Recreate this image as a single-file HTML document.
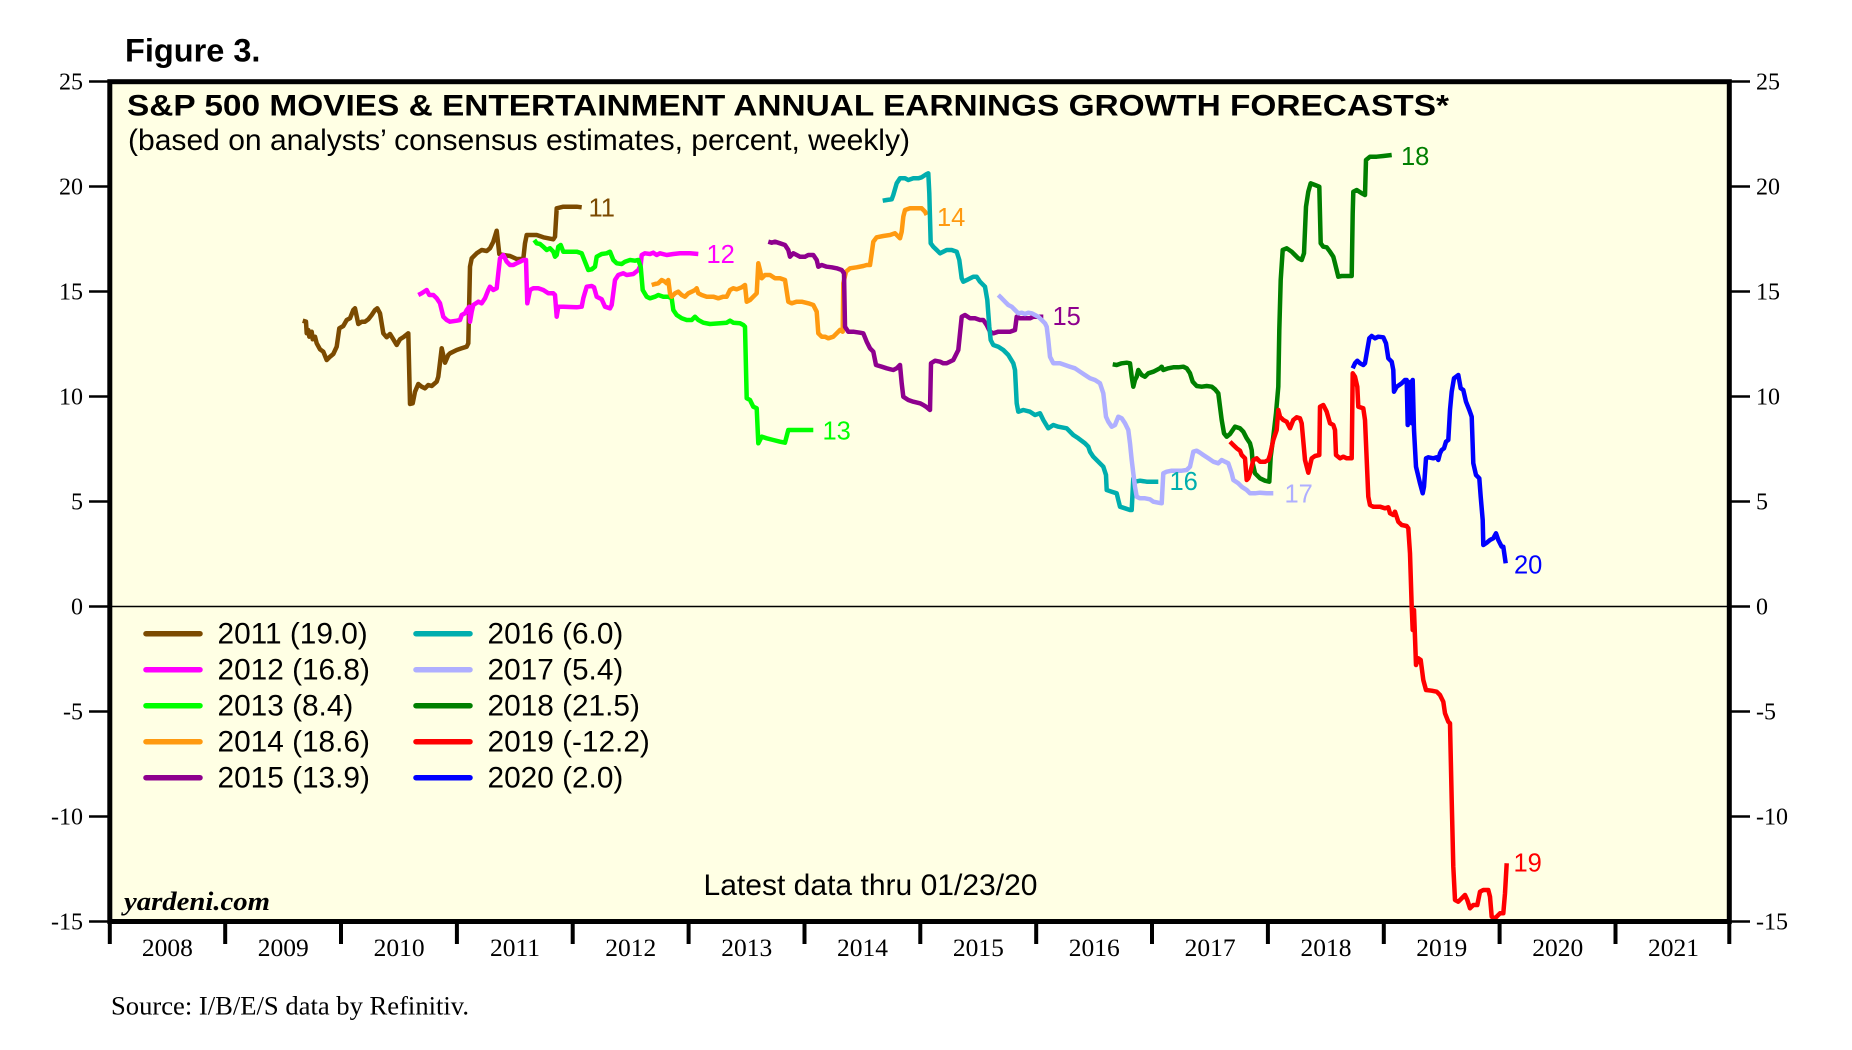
<!DOCTYPE html>
<html><head><meta charset="utf-8"><style>
html,body{margin:0;padding:0;background:#fff;}
svg{display:block;}
.s{font-family:"Liberation Sans",Arial,sans-serif;}
.r{font-family:"Liberation Serif","Times New Roman",serif;}
.ln{fill:none;stroke-width:4.5;stroke-linejoin:round;stroke-linecap:butt;}
</style></head><body>
<svg width="1852" height="1050" viewBox="0 0 1852 1050" xmlns="http://www.w3.org/2000/svg">
<rect x="0" y="0" width="1852" height="1050" fill="#fff"/>
<text class="s" x="125" y="61.3" font-size="32.5" font-weight="bold" fill="#000">Figure 3.</text>
<rect x="109.8" y="81.7" width="1619.5" height="839.8" fill="#FFFFE4"/>
<line x1="109.8" y1="606.5" x2="1729.3" y2="606.5" stroke="#000" stroke-width="1.5"/>
<g stroke="#000" stroke-width="2.5">
<line x1="89" y1="81.5" x2="108" y2="81.5"/><line x1="89" y1="186.5" x2="108" y2="186.5"/><line x1="89" y1="291.5" x2="108" y2="291.5"/><line x1="89" y1="396.5" x2="108" y2="396.5"/><line x1="89" y1="501.5" x2="108" y2="501.5"/><line x1="89" y1="606.5" x2="108" y2="606.5"/><line x1="89" y1="711.5" x2="108" y2="711.5"/><line x1="89" y1="816.5" x2="108" y2="816.5"/><line x1="89" y1="921.5" x2="108" y2="921.5"/>
<line x1="1731" y1="81.5" x2="1750" y2="81.5"/><line x1="1731" y1="186.5" x2="1750" y2="186.5"/><line x1="1731" y1="291.5" x2="1750" y2="291.5"/><line x1="1731" y1="396.5" x2="1750" y2="396.5"/><line x1="1731" y1="501.5" x2="1750" y2="501.5"/><line x1="1731" y1="606.5" x2="1750" y2="606.5"/><line x1="1731" y1="711.5" x2="1750" y2="711.5"/><line x1="1731" y1="816.5" x2="1750" y2="816.5"/><line x1="1731" y1="921.5" x2="1750" y2="921.5"/>
</g>
<g stroke="#000" stroke-width="4">
<line x1="109.8" y1="921" x2="109.8" y2="944"/><line x1="225.2" y1="921" x2="225.2" y2="944"/><line x1="341" y1="921" x2="341" y2="944"/><line x1="456.9" y1="921" x2="456.9" y2="944"/><line x1="572.7" y1="921" x2="572.7" y2="944"/><line x1="688.6" y1="921" x2="688.6" y2="944"/><line x1="804.5" y1="921" x2="804.5" y2="944"/><line x1="920.3" y1="921" x2="920.3" y2="944"/><line x1="1036.2" y1="921" x2="1036.2" y2="944"/><line x1="1152" y1="921" x2="1152" y2="944"/><line x1="1267.9" y1="921" x2="1267.9" y2="944"/><line x1="1383.8" y1="921" x2="1383.8" y2="944"/><line x1="1499.6" y1="921" x2="1499.6" y2="944"/><line x1="1615.5" y1="921" x2="1615.5" y2="944"/><line x1="1729.3" y1="921" x2="1729.3" y2="944"/>
</g>
<g class="r" font-size="24" fill="#000" text-anchor="end">
<text x="83" y="89.5">25</text><text x="83" y="194.5">20</text><text x="83" y="299.5">15</text><text x="83" y="404.5">10</text><text x="83" y="509.5">5</text><text x="83" y="614.5">0</text><text x="83" y="719.5">-5</text><text x="83" y="824.5">-10</text><text x="83" y="929.5">-15</text>
</g>
<g class="r" font-size="24" fill="#000">
<text x="1756" y="89.5">25</text><text x="1756" y="194.5">20</text><text x="1756" y="299.5">15</text><text x="1756" y="404.5">10</text><text x="1756" y="509.5">5</text><text x="1756" y="614.5">0</text><text x="1756" y="719.5">-5</text><text x="1756" y="824.5">-10</text><text x="1756" y="929.5">-15</text>
</g>
<g class="r" font-size="25.5" fill="#000" text-anchor="middle">
<text x="167.4" y="956">2008</text><text x="283.2" y="956">2009</text><text x="399.1" y="956">2010</text><text x="515" y="956">2011</text><text x="630.8" y="956">2012</text><text x="746.7" y="956">2013</text><text x="862.5" y="956">2014</text><text x="978.4" y="956">2015</text><text x="1094.3" y="956">2016</text><text x="1210.1" y="956">2017</text><text x="1326" y="956">2018</text><text x="1441.8" y="956">2019</text><text x="1557.7" y="956">2020</text><text x="1673.5" y="956">2021</text>
</g>
<text class="s" x="127" y="115.5" font-size="30" font-weight="bold" fill="#000" textLength="1322" lengthAdjust="spacingAndGlyphs">S&amp;P 500 MOVIES &amp; ENTERTAINMENT ANNUAL EARNINGS GROWTH FORECASTS*</text>
<text class="s" x="128" y="150" font-size="30" fill="#000" textLength="782" lengthAdjust="spacingAndGlyphs">(based on analysts’ consensus estimates, percent, weekly)</text>

<polyline class="ln" stroke="#7B4A00" points="302.7,320.7 306,321.7 306.7,333.3 308.3,330 309.3,336.7 311.7,331.7 312.7,339.3 315,336.7 316.7,343.3 320,349.3 323.3,351.7 326.7,360 330,356.7 333.3,354 336.7,346.7 339.3,328.3 343.3,326 346.7,320 350,318.3 353.3,310 355,308.3 358.3,324 361.7,321.7 365,321.7 368.3,319.3 371.7,315 375,310 377.3,308.3 380,313.3 383.3,333.3 386.7,337.3 390,334 393.3,339.3 396.7,345 400,339.3 404,336.7 408.3,333.3 410,404 412.7,403.3 415,391.7 418.3,384 421.7,386.7 425,388.3 428.3,385 431.7,386 436.7,381.7 438.3,376.7 441.7,348.3 445,362.7 448.3,355 450,353.3 456.7,350 461.7,348.3 466.7,346.7 468.3,343.3 470,266.7 471.7,258.3 476.7,253.3 481.7,250 486.7,251 490,248.3 493.3,241.7 496.7,230.7 499.3,254 503.3,255 510,256 516.7,259 523.3,259 525,243.3 526.7,235 536.7,235 543.3,237.3 553.3,239.3 555,236.7 556.7,208.3 563.3,206.7 576.7,206.7 581.7,207.3"/>
<polyline class="ln" stroke="#FF00FF" points="418.3,295 421.7,293.3 426.7,290 429.3,295 433.3,295 436.7,298.3 440,303.3 443.3,316.7 446.7,320 450,321.7 456.7,320.7 460,320 461.7,315 465,313.3 466.7,310 469.3,306.7 470,321.7 471.7,311.7 473.3,305 478.3,301.7 481.7,303.3 485,298.3 488.3,290 490,286.7 493.3,290 496.7,288.3 498.3,273.3 500,258.3 503.3,255 506.7,261.7 510,265 513.3,265 516.7,263.3 520,261.7 523.3,260 526,260 527.3,303.3 530,290 533.3,288.3 538.3,288.3 543.3,290 548.3,293.3 553.3,293.3 555,295 556.7,316.7 558.3,306.7 563.3,306.7 576.7,307.3 581.7,306.7 583.3,298.3 586.7,286.7 591.7,286 594,287.3 596.7,296.7 601.7,299.3 605,306.7 610,308.3 611.7,305 615,280 618.3,275 623.3,273.3 626.7,275 633.3,274 638.3,270 640.7,265 641.7,255 645,253.3 650,254 653.3,252.7 656.7,255 660,253.3 666.7,255 673.3,254 680,253.3 690,253.3 698.3,254"/>
<polyline class="ln" stroke="#00FF00" points="534.3,240 536.7,243.3 540,244 543.3,246.7 546.7,250 550,248.3 553.3,251.7 555,256.7 556.7,255 558.3,246.7 560.7,245 563.3,251.7 570,251.7 576.7,251.7 581.7,253.3 585,261.7 588.3,270 591.7,269.3 595,266.7 596.7,256.7 601.7,254 606.7,253.3 610,251.7 613.3,260 616.7,263.3 621.7,264 625,261.7 630,260 635,260.7 638.3,260 640.7,266.7 642.7,290 646.7,296.7 650,298.3 655,296.7 658.3,295 663.3,296.7 668.3,296.7 671.7,298.3 673.3,310 676.7,315 681.7,318.3 686.7,320 691.7,320 695,316.7 698.3,320 703.3,322.7 710,324 720,323.3 726.7,322.7 730,320.7 733.3,322.7 740,323.3 743.3,325 745,326.7 746.7,398.3 750,400 753.3,406.7 756.7,408.3 758.3,443.3 761.7,436.7 766.7,438.3 773.3,440 780,441.7 785,442.7 788.3,430 793.3,430 803.3,430 813.3,430"/>
<polyline class="ln" stroke="#FF9A10" points="651.7,285 655,284 658.3,283.3 661.7,280 665,281.7 666.7,283.3 668.3,280 670,293.3 671.7,296.7 675,293.3 678.3,291.7 681.7,295 685,296.7 688.3,293.3 691.7,291.7 695,290 696.7,288.3 698.3,293.3 701.7,295 706.7,296.7 713.3,296.7 718.3,298.3 723.3,296.7 726.7,296.7 730,290 733.3,288.3 736.7,289.3 741.7,287.3 745,285 746.7,301.7 750,300 753.3,296.7 756.7,293.3 758.3,263.3 760,270 761.7,278.3 765,275 770,275 775,278.3 780,278.3 785,280 788.3,301.7 791.7,303.3 796.7,301.7 801.7,301.7 808.3,303.3 813.3,305 816.7,311.7 818.3,333.3 821.7,336.7 825,336.7 828.3,338.3 833.3,336.7 836.7,333.3 840,330 842.7,331.7 843.3,283.3 846,271.7 850,268.3 856.7,267.3 863.3,266 866.7,265 870,265 871.7,253.3 873.3,241.7 876.7,237.3 883.3,236 890,235 895,233.3 900,238.3 901.7,231.7 903.3,216.7 905,210 910,208.3 916.7,208.3 921.7,208.3 925,211.7 926.7,215"/>
<polyline class="ln" stroke="#8E008E" points="768.3,241.7 771.7,242.7 775,241.7 780,243.3 785,245 788.3,250 790,256.7 793.3,253.3 796.7,255 800,256.7 805,256.7 808.3,255 813.3,255 816.7,260 818.3,266.7 821.7,265 826.7,266.7 831.7,267.3 836.7,268.3 841.7,270 844,273.3 845,326.7 848.3,331.7 853.3,331.7 860,332.7 863.3,333.3 866.7,341.7 870,348.3 873.3,351.7 876,365 881.7,366.7 886.7,368.3 893.3,370 896.7,368.3 900,365 901.7,383.3 903.3,396.7 908.3,400 913.3,401.7 920,403.3 923.3,405 926,406.7 930,410 931,363.3 935,360.7 940,361.7 943.3,363.3 946.7,363.3 953.3,360 958.3,350 961.7,316.7 965,315 970,318.3 975,318.3 980,320 983.3,320 986.7,325 990,331.7 993.3,333.3 998.3,331.7 1003.3,331.7 1010,331.7 1015,330 1016.7,316.7 1020,318.3 1025,318.3 1030,318.3 1033.3,316.7 1036.7,316.7 1043.3,316.7"/>
<polyline class="ln" stroke="#00AEAE" points="882.7,200.7 886.7,200 891.7,199.3 893.3,195 896.7,183.3 900,178.3 905,178.3 908.3,180 913.3,178.3 918.3,178.3 921.7,177.3 926.7,174 928.3,173.3 929.3,193.3 930.7,243.3 933.3,246.7 936.7,250 940,253.3 943.3,251.7 946.7,250 951.7,250 956.7,251.7 959.3,260 961.7,278.3 963.3,281.7 968.3,279.3 973.3,276.7 976.7,276.7 980,281.7 985,286.7 987.3,300 989.3,326.7 990.7,340 993.3,345 998.3,346.7 1003.3,350 1008.3,355 1013.3,363.3 1015,370 1016.7,403.3 1018.3,411.7 1023.3,410 1030,411.7 1035,415 1040,413.3 1043.3,420 1048.3,428.3 1053.3,425 1058.3,426.7 1066.7,428.3 1073.3,435 1078.3,438.3 1085,443.3 1088.3,446.7 1090,451.7 1093.3,456.7 1098.3,461.7 1103.3,466.7 1106,475 1106.7,490 1111.7,491.7 1116.7,493.3 1118.3,500 1120,506.7 1125,508.3 1130,510 1131.7,510 1133.3,478.3 1135,481.7 1140,480.7 1146.7,481.7 1151.7,481.7 1158.3,481.7"/>
<polyline class="ln" stroke="#AFAFFF" points="998.3,295 1001.7,298.3 1005,301.7 1008.3,305 1011.7,306.7 1015,310 1018.3,313.3 1021.7,312.7 1025,314 1028.3,312.7 1031.7,313.3 1035,315 1038.3,316.7 1041.7,320 1045,323.3 1046.7,326.7 1048.3,340 1050,356.7 1053.3,363.3 1060,363.3 1065,365 1070,366.7 1075,368.3 1080,371.7 1085,375 1090,378.3 1095,380 1100,383.3 1103.3,393.3 1106,416.7 1108.3,421.7 1111.7,426.7 1115,425 1118.3,416.7 1121.7,418.3 1125,423.3 1128.3,430 1130,443.3 1131.7,460 1133.3,473.3 1135,486.7 1136.7,496.7 1140,498.3 1145,498.3 1150,499.3 1153.3,501.7 1158.3,502.7 1161.7,503.3 1163.3,473.3 1166.7,471.7 1171.7,470.7 1176.7,470.7 1181.7,470.7 1186.7,470 1190,466.7 1193.3,451.7 1196.7,450.7 1200,452.7 1203.3,455 1208.3,458.3 1213.3,461.7 1218.3,463.3 1221.7,460 1225,461.7 1228.3,463.3 1231.7,473.3 1233.3,480 1238.3,483.3 1241.7,486.7 1246.7,490 1250,493.3 1255,493.3 1260,492.7 1266.7,493.3 1273.3,493.3"/>
<polyline class="ln" stroke="#007F00" points="1112.7,364.3 1116.7,365 1121.7,363.3 1126.7,362.7 1130,363.3 1131.7,376.7 1133.3,386.7 1135,380 1136.7,376.7 1138.3,370 1141.7,375 1145,376.7 1148.3,373.3 1153.3,371.7 1156.7,370 1160,368.3 1161.7,366.7 1163.3,370 1168.3,368.3 1173.3,367.3 1178.3,367.3 1183.3,366.7 1186.7,368.3 1190,373.3 1192.7,381.7 1196.7,386 1201.7,386.7 1206.7,386 1211.7,386.7 1215,389.3 1218.3,393.3 1221.7,420 1224,433.3 1226.7,436.7 1230,434 1235,426.7 1240,428.3 1243.3,431.7 1246.7,438.3 1250,443.3 1251.7,450 1252.7,463.3 1255,473.3 1260,478.3 1265,480.7 1269.3,481.7 1270.7,456.7 1273.3,436.7 1276,413.3 1278.3,386.7 1279.3,330 1280.7,280 1282.7,250 1286.7,248.3 1291.7,251.7 1295,255 1298.3,258.3 1301.7,260 1304,253.3 1306,206.7 1308.3,191.7 1310.7,183.3 1315,185 1319.3,186.7 1320.7,243.3 1323.3,246.7 1326.7,247.3 1330,251.7 1333.3,256.7 1335,263.3 1338.3,276.7 1341.7,276 1346.7,276 1351.7,276 1352.7,213.3 1353.3,191.7 1356.7,190 1361.7,193.3 1365,195 1366,160 1370,156.7 1376.7,156.7 1383.3,156 1391.7,155"/>
<polyline class="ln" stroke="#FF0000" points="1230,441.7 1233.3,445 1236.7,448.3 1240,450.7 1241.7,455 1245,458.3 1246.7,480 1248.3,478.3 1250,473.3 1251.7,466.7 1253.3,460 1256.7,458.3 1260,461.7 1265,461.7 1268.3,460 1270,455 1273.3,440 1276.7,430 1278.3,410 1280,416.7 1283.3,420 1286.7,421.7 1290,428.3 1293.3,420 1296.7,417.3 1300,418.3 1301.7,423.3 1305,460 1308.3,472.7 1311.7,458.3 1315,456 1319.3,455 1320,406.7 1323.3,405 1326.7,411.7 1330,423.3 1333.3,425 1335,430 1336,455 1340,458.3 1343.3,456.7 1346.7,458.3 1351.7,458.3 1352.7,373.3 1355,376.7 1357.3,386.7 1358.3,406.7 1363.3,408.3 1365,420 1368.3,496.7 1370,505 1373.3,506.7 1380,506.7 1385,508.3 1388.3,507.3 1390,513.3 1393.3,515 1395,511.7 1398.3,521.7 1401.7,525 1406.7,526 1408.3,528.3 1410,553.3 1411.7,606.7 1412.7,630 1414,610 1416,665 1418.3,658.3 1420.7,660 1423.3,680 1426,690 1431.7,690.7 1436.7,691.7 1440,695 1443.3,701.7 1445,713.3 1448.3,721.7 1450,723.3 1451.7,800 1453.3,866.7 1455,900 1458.3,901.7 1461.7,898.3 1465,895 1467.3,900 1470,908.3 1473.3,905 1477.3,905 1480,891.7 1483.3,890 1488.3,890 1490,896.7 1491.7,916.7 1495,918.3 1500,913.3 1503.3,913.3 1505,893.3 1506.7,863.3"/>
<polyline class="ln" stroke="#0000FF" points="1352.7,368.3 1355,363.3 1357.3,360.7 1360,363.3 1363.3,365 1365,363.3 1366.7,353.3 1369.3,338.3 1371.7,336 1375,338.3 1378.3,336.7 1383.3,337.3 1386,343.3 1388.3,358.3 1391.7,361.7 1393.3,370 1394,391.7 1396.7,386.7 1399.3,385 1401.7,383.3 1403.3,381.7 1405,380 1406.7,380 1407.7,425 1409.3,396.7 1410.7,381.7 1411.7,423.3 1412.7,380 1414,430 1416,466.7 1420,483.3 1422.7,493.3 1424,486.7 1426,458.3 1428.3,457.3 1433.3,458.3 1436.7,457.3 1438.3,460 1440,453.3 1441.7,450 1444,448.3 1446,441.7 1448.3,440 1450,410 1451.7,391.7 1454,378.3 1458.3,375 1460.7,388.3 1463.3,390 1466,401.7 1469.3,410 1471.7,416.7 1473.3,463.3 1476,475 1479.3,478.3 1480.7,496.7 1482.7,520 1483.3,545 1486.7,542.7 1490,540 1493.3,538.3 1496,533.3 1498.3,540 1501.7,546.7 1503.3,546.7 1505.7,563.3"/>

<g class="s" font-size="25.5">
<text x="588.5" y="216.7" fill="#7B4A00">11</text>
<text x="706.5" y="263" fill="#FF00FF">12</text>
<text x="822.5" y="439.3" fill="#00FF00">13</text>
<text x="937" y="226" fill="#FF9A10">14</text>
<text x="1052.5" y="325" fill="#8E008E">15</text>
<text x="1169.5" y="490" fill="#00AEAE">16</text>
<text x="1284.5" y="502.7" fill="#AFAFFF">17</text>
<text x="1401" y="165" fill="#007F00">18</text>
<text x="1513.5" y="871.6" fill="#FF0000">19</text>
<text x="1514" y="573.3" fill="#0000FF">20</text>
</g>

<g stroke-width="5.5" stroke-linecap="round">
<line x1="146" y1="633.7" x2="200" y2="633.7" stroke="#7B4A00"/>
<line x1="146" y1="669.7" x2="200" y2="669.7" stroke="#FF00FF"/>
<line x1="146" y1="705.7" x2="200" y2="705.7" stroke="#00FF00"/>
<line x1="146" y1="741.7" x2="200" y2="741.7" stroke="#FF9A10"/>
<line x1="146" y1="777.7" x2="200" y2="777.7" stroke="#8E008E"/>
<line x1="416" y1="633.7" x2="470" y2="633.7" stroke="#00AEAE"/>
<line x1="416" y1="669.7" x2="470" y2="669.7" stroke="#AFAFFF"/>
<line x1="416" y1="705.7" x2="470" y2="705.7" stroke="#007F00"/>
<line x1="416" y1="741.7" x2="470" y2="741.7" stroke="#FF0000"/>
<line x1="416" y1="777.7" x2="470" y2="777.7" stroke="#0000FF"/>
</g>
<g class="s" font-size="29.8" fill="#000">
<text x="217.5" y="643.5">2011 (19.0)</text>
<text x="217.5" y="679.5">2012 (16.8)</text>
<text x="217.5" y="715.5">2013 (8.4)</text>
<text x="217.5" y="751.5">2014 (18.6)</text>
<text x="217.5" y="787.5">2015 (13.9)</text>
<text x="487.5" y="643.5">2016 (6.0)</text>
<text x="487.5" y="679.5">2017 (5.4)</text>
<text x="487.5" y="715.5">2018 (21.5)</text>
<text x="487.5" y="751.5">2019 (-12.2)</text>
<text x="487.5" y="787.5">2020 (2.0)</text>
</g>
<text class="s" x="703.5" y="895" font-size="29.5" fill="#000" textLength="334" lengthAdjust="spacingAndGlyphs">Latest data thru 01/23/20</text>
<text class="r" x="124" y="910" font-size="26" font-weight="bold" font-style="italic" fill="#000" textLength="146" lengthAdjust="spacingAndGlyphs">yardeni.com</text>
<rect x="109.8" y="81.7" width="1619.5" height="839.8" fill="none" stroke="#000" stroke-width="5"/>
<text class="r" x="111" y="1014.5" font-size="26" fill="#000" textLength="358" lengthAdjust="spacingAndGlyphs">Source: I/B/E/S data by Refinitiv.</text>
</svg>
</body></html>
